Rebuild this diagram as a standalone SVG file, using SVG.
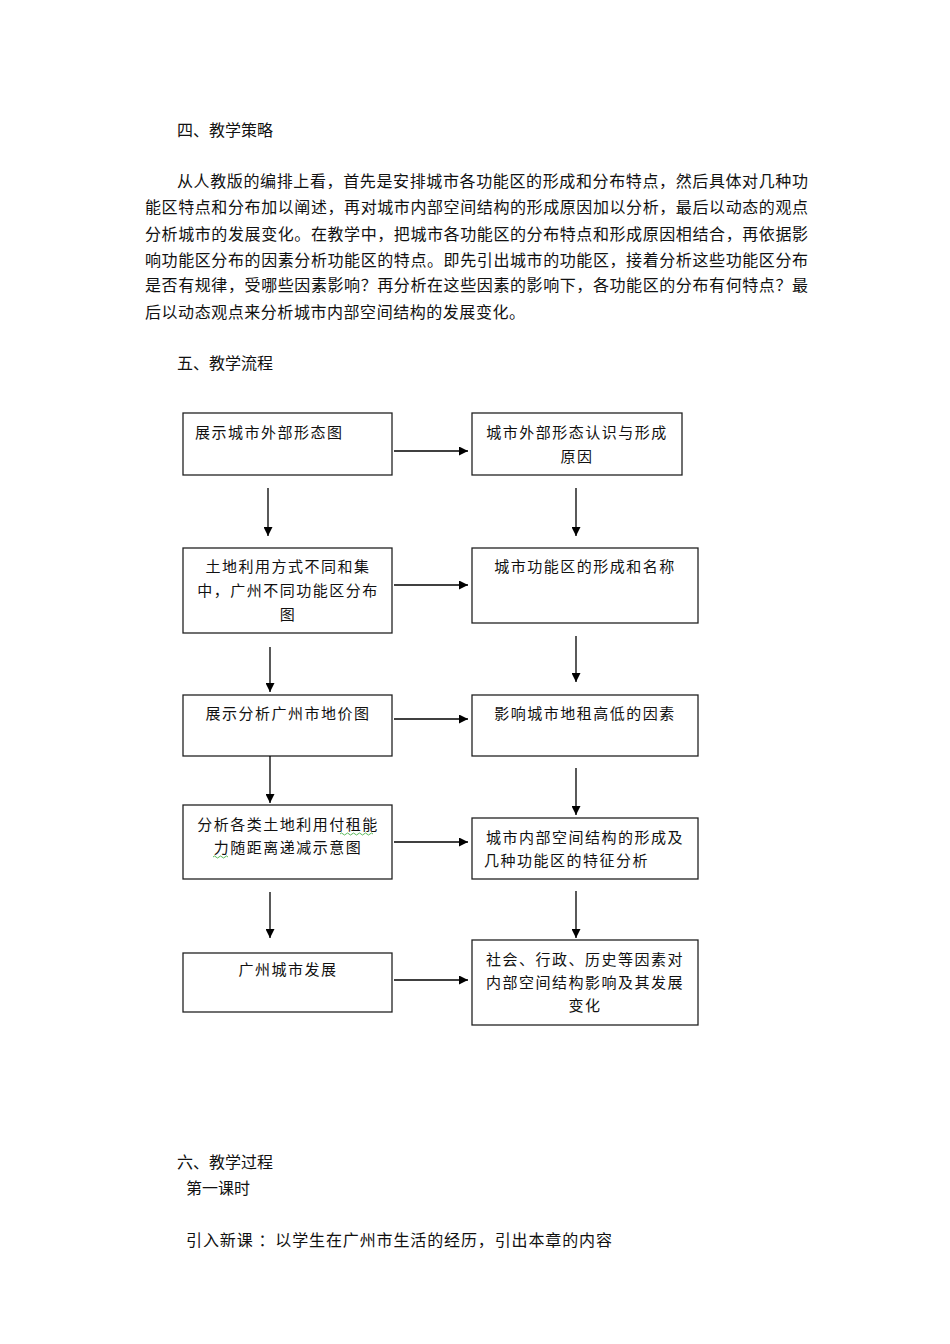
<svg xmlns="http://www.w3.org/2000/svg" width="950" height="1344" viewBox="0 0 950 1344">
<style>
.body{font-family:"Liberation Serif","Noto Sans CJK SC",serif;font-size:16px;fill:#111}
.bt{font-family:"Liberation Sans","Noto Sans CJK SC",sans-serif;font-size:15px;fill:#111;letter-spacing:1.5px}
.c{text-anchor:middle}
.box{fill:#fff;stroke:#222;stroke-width:1.3}
.con line{stroke:#000;stroke-width:1.3}
</style>
<defs>
<marker id="ah" viewBox="0 0 10 10" refX="10" refY="5" markerWidth="10" markerHeight="9" markerUnits="userSpaceOnUse" orient="auto">
<path d="M0,0 L10,5 L0,10 z" fill="#000"/>
</marker>
</defs>
<rect width="950" height="1344" fill="#fff"/>
<g id="text">
<text class="body" x="177" y="136">四、教学策略</text>
<text class="body" x="177" y="187" textLength="631" lengthAdjust="spacing">从人教版的编排上看，首先是安排城市各功能区的形成和分布特点，然后具体对几种功</text>
<text class="body" x="145" y="213" textLength="663" lengthAdjust="spacing">能区特点和分布加以阐述，再对城市内部空间结构的形成原因加以分析，最后以动态的观点</text>
<text class="body" x="145" y="240" textLength="663" lengthAdjust="spacing">分析城市的发展变化。在教学中，把城市各功能区的分布特点和形成原因相结合，再依据影</text>
<text class="body" x="145" y="266" textLength="663" lengthAdjust="spacing">响功能区分布的因素分析功能区的特点。即先引出城市的功能区，接着分析这些功能区分布</text>
<text class="body" x="145" y="291" textLength="663" lengthAdjust="spacing">是否有规律，受哪些因素影响？再分析在这些因素的影响下，各功能区的分布有何特点？最</text>
<text class="body" x="145" y="318" textLength="380" lengthAdjust="spacing">后以动态观点来分析城市内部空间结构的发展变化。</text>
<text class="body" x="177" y="369">五、教学流程</text>
<text class="body" x="177" y="1168">六、教学过程</text>
<text class="body" x="186" y="1194">第一课时</text>
<text class="body" x="186" y="1246" textLength="426" lengthAdjust="spacing" xml:space="preserve">引入新课 ：以学生在广州市生活的经历，引出本章的内容</text>
</g>
<g id="n1"><rect class="box" x="183" y="413" width="209" height="62"/><text class="bt" x="195" y="438">展示城市外部形态图</text></g>
<g id="n2"><rect class="box" x="472" y="413" width="210" height="62"/><text class="bt c" x="577" y="438">城市外部形态认识与形成</text><text class="bt c" x="577" y="462">原因</text></g>
<g id="n3"><rect class="box" x="183" y="548" width="209" height="85"/><text class="bt c" x="288" y="572">土地利用方式不同和集</text><text class="bt c" x="288" y="596">中，广州不同功能区分布</text><text class="bt c" x="288" y="620">图</text></g>
<g id="n4"><rect class="box" x="472" y="548" width="226" height="75"/><text class="bt c" x="585" y="572">城市功能区的形成和名称</text></g>
<g id="n5"><rect class="box" x="183" y="695" width="209" height="61"/><text class="bt c" x="288" y="719">展示分析广州市地价图</text></g>
<g id="n6"><rect class="box" x="472" y="695" width="226" height="61"/><text class="bt c" x="585" y="719">影响城市地租高低的因素</text></g>
<g id="n7"><rect class="box" x="183" y="805" width="209" height="74"/><text class="bt c" x="288" y="830">分析各类土地利用付租能</text><text class="bt c" x="288" y="853">力随距离递减示意图</text>
<path d="M340,834 q1.5,-2 3,0 t3,0 t3,0 t3,0 t3,0 t3,0 t3,0 t3,0 t3,0 t3,0 t3,0" fill="none" stroke="#3a3" stroke-width="0.8"/>
<path d="M213,857 q1.5,-2 3,0 t3,0 t3,0 t3,0 t3,0" fill="none" stroke="#3a3" stroke-width="0.8"/></g>
<g id="n8"><rect class="box" x="472" y="818" width="226" height="61"/><text class="bt c" x="585" y="843">城市内部空间结构的形成及</text><text class="bt" x="484" y="866">几种功能区的特征分析</text></g>
<g id="n9"><rect class="box" x="183" y="953" width="209" height="59"/><text class="bt c" x="288" y="975">广州城市发展</text></g>
<g id="n10"><rect class="box" x="472" y="940" width="226" height="85"/><text class="bt c" x="585" y="965">社会、行政、历史等因素对</text><text class="bt c" x="585" y="988">内部空间结构影响及其发展</text><text class="bt c" x="585" y="1011">变化</text></g>
<g id="connectors" class="con">
<line x1="394" y1="451" x2="468" y2="451" marker-end="url(#ah)"/>
<line x1="268" y1="488" x2="268" y2="536" marker-end="url(#ah)"/>
<line x1="576" y1="488" x2="576" y2="536" marker-end="url(#ah)"/>
<line x1="394" y1="585" x2="468" y2="585" marker-end="url(#ah)"/>
<line x1="270" y1="647" x2="270" y2="692" marker-end="url(#ah)"/>
<line x1="576" y1="636" x2="576" y2="682" marker-end="url(#ah)"/>
<line x1="394" y1="719" x2="468" y2="719" marker-end="url(#ah)"/>
<line x1="270" y1="756" x2="270" y2="803" marker-end="url(#ah)"/>
<line x1="576" y1="768" x2="576" y2="815" marker-end="url(#ah)"/>
<line x1="394" y1="842" x2="468" y2="842" marker-end="url(#ah)"/>
<line x1="270" y1="892" x2="270" y2="938" marker-end="url(#ah)"/>
<line x1="576" y1="891" x2="576" y2="938" marker-end="url(#ah)"/>
<line x1="394" y1="980" x2="468" y2="980" marker-end="url(#ah)"/>
</g>
</svg>
